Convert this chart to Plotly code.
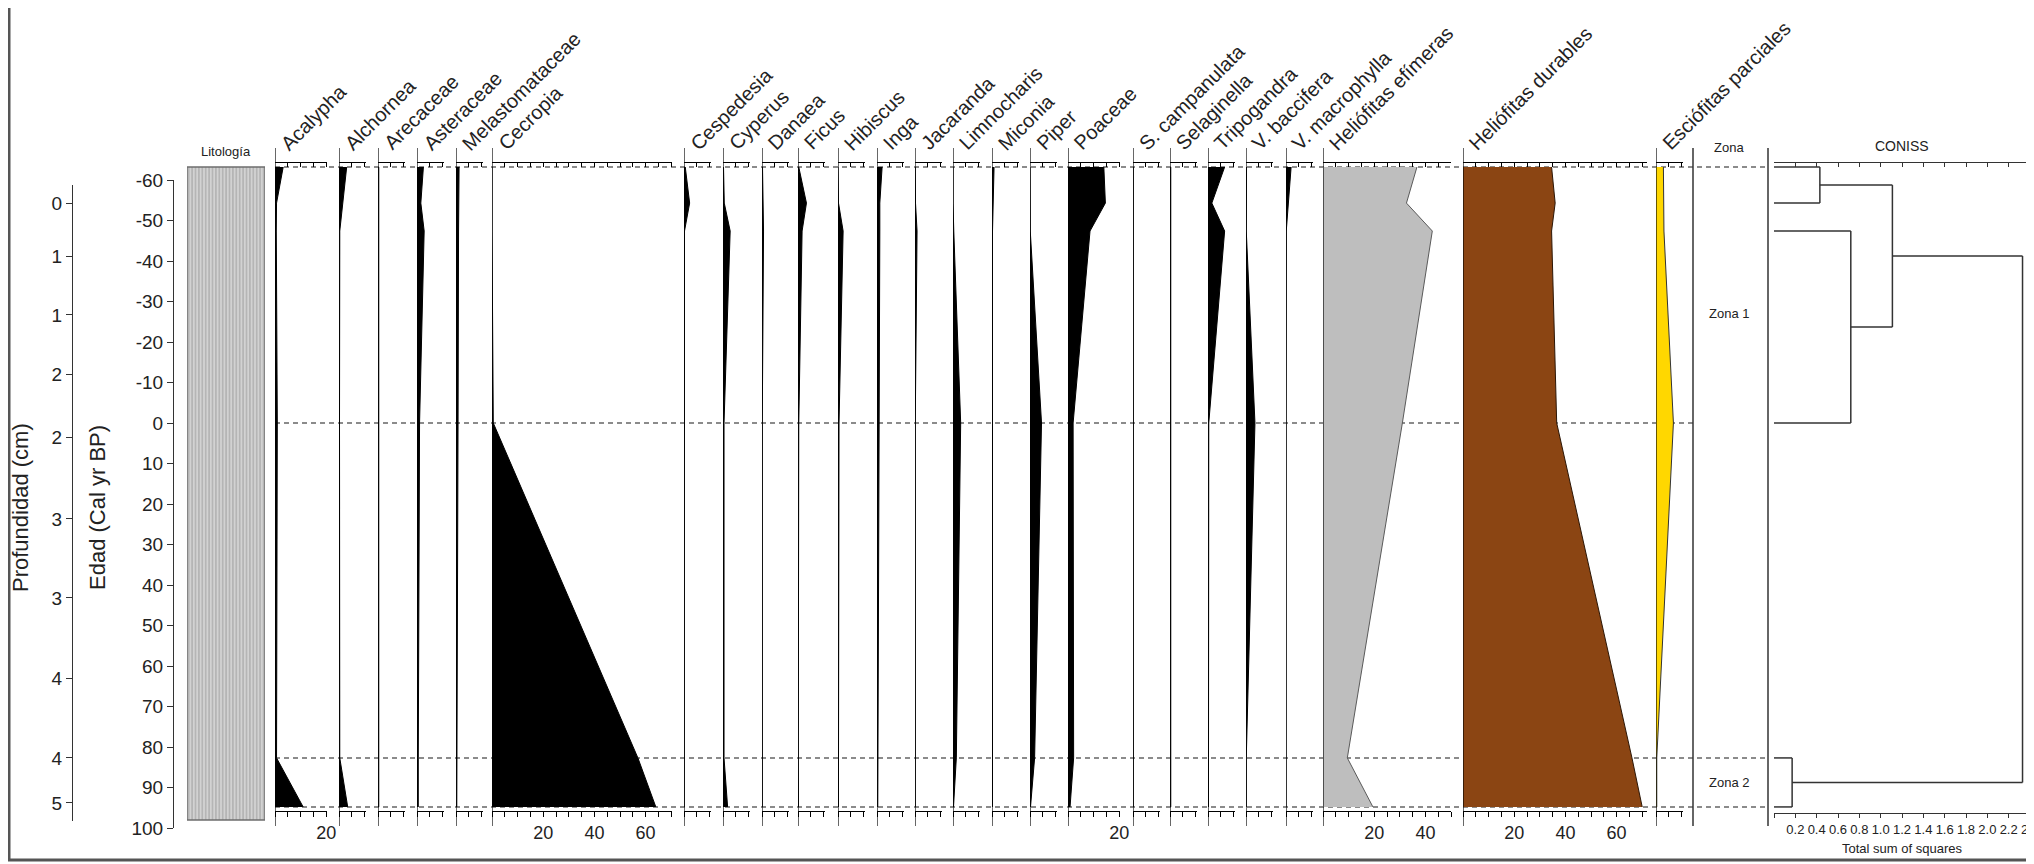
import plotly.graph_objects as go

# ---------------- data ----------------
sample_ages = [-63.2, -54.3, -47.4, 0.0, 82.7, 94.8]

taxa_names = ["Acalypha", "Alchornea", "Arecaceae", "Asteraceae", "Melastomataceae",
              "Cecropia", "Cespedesia", "Cyperus", "Danaea", "Ficus", "Hibiscus", "Inga",
              "Jacaranda", "Limnocharis", "Miconia", "Piper", "Poaceae", "S. campanulata",
              "Selaginella", "Tripogandra", "V. baccifera", "V. macrophylla",
              "Heliófitas efímeras", "Heliófitas durables", "Esciófitas parciales"]

acalypha = [3.2, 0.6, 0.5, 0.9, 0.6, 11.0]
alchornea = [3.0, 1.5, 0.3, 0.2, 0.3, 3.4]
arecaceae = [0.3, 0.3, 0.3, 0.2, 0.2, 0.3]
asteraceae = [2.5, 1.5, 2.8, 1.0, 0.5, 0.5]
melastomataceae = [1.2, 1.0, 1.0, 0.8, 0.3, 0.3]
cecropia = [0.0, 0.0, 0.0, 0.5, 57.0, 64.0]
cespedesia = [0.5, 2.2, 0.2, 0.1, 0.1, 0.1]
cyperus = [0.2, 0.5, 2.8, 0.4, 0.4, 1.8]
danaea = [0.2, 0.3, 0.6, 0.1, 0.1, 0.1]
ficus = [0.3, 3.3, 1.6, 0.3, 0.1, 0.2]
hibiscus = [0.0, 0.2, 2.0, 0.4, 0.2, 0.2]
inga = [2.0, 1.1, 1.1, 0.8, 0.2, 0.3]
jacaranda = [0.1, 0.2, 0.8, 0.1, 0.1, 0.1]
limnocharis = [0.0, 0.0, 0.3, 3.0, 1.3, 0.2]
miconia = [0.8, 0.3, 0.2, 0.2, 0.2, 0.2]
piper = [0.0, 0.0, 0.1, 4.5, 1.8, 0.2]
poaceae = [14.0, 14.6, 8.6, 2.0, 2.2, 0.8]
s_campanulata = [0.1, 0.1, 0.1, 0.1, 0.1, 0.1]
selaginella = [0.3, 0.3, 0.4, 0.4, 0.5, 0.3]
tripogandra = [6.5, 1.5, 6.5, 0.3, 0.2, 0.2]
v_baccifera = [0.2, 0.2, 0.1, 3.5, 0.1, 0.1]
v_macrophylla = [2.0, 0.8, 0.1, 0.0, 0.0, 0.0]
helio_efimeras = [36.7, 32.6, 42.7, 31.0, 9.5, 19.5]
helio_durables = [34.6, 36.0, 34.6, 36.6, 66.0, 70.0]
esciofitas_parciales = [2.9, 2.9, 3.1, 6.8, 0.3, 0.3]

taxa_values = [acalypha, alchornea, arecaceae, asteraceae, melastomataceae, cecropia,
               cespedesia, cyperus, danaea, ficus, hibiscus, inga, jacaranda, limnocharis,
               miconia, piper, poaceae, s_campanulata, selaginella, tripogandra,
               v_baccifera, v_macrophylla, helio_efimeras, helio_durables,
               esciofitas_parciales]

panel_max = [20.5, 10.5, 10.5, 10.5, 10.5, 70.5, 10.5, 10.5, 10.5, 10.5, 10.5, 10.5,
             10.5, 10.5, 10.5, 10.5, 20.5, 10.5, 10.5, 10.5, 10.5, 10.5, 50.0, 72.0, 10.5]

age_ticks = list(range(-60, 101, 10))
age_tick_labels = [str(v) for v in age_ticks]
depth_tick_ages = [-54.3, -41.2, -26.7, -12.1, 3.5, 23.7, 43.2, 63.0, 82.7, 93.8]
depth_tick_labels = ["0", "1", "1", "2", "2", "3", "3", "4", "4", "5"]

lith_top, lith_bottom = -63.2, 98.0
zone_bounds = [-63.2, 0.0, 82.7, 94.8]
zone_names = ["Zona 1", "Zona 2"]
zone_label_ages = [-27.0, 88.8]

# CONISS merges: (cluster a, cluster b, total sum of squares); new clusters numbered from 6
coniss_merges = [(0, 1, 0.43), (2, 3, 0.72), (4, 5, 0.17), (6, 7, 1.11), (9, 8, 2.33)]
coniss_ticks = [round(0.2 * i, 1) for i in range(13)]
coniss_tick_labels = ["" if v == 0 else f"{v:.1f}" for v in coniss_ticks]

# ---------------- layout constants ----------------
FIG_W, FIG_H = 2034, 864
OFFSET = 8          # page body margin: screen px = figure px + OFFSET
PX_PER_PCT = 2.56
AGE0_PX, PX_PER_YR = 423.0, 4.05
panel_left_px = [275, 339, 378, 417, 456, 492, 684, 723, 762, 798, 838, 877, 915, 953,
                 992, 1030, 1068, 1133, 1170, 1208, 1246, 1286, 1323, 1463, 1656]
fill_colors = ["black"] * 22 + ["#bebebe", "#8b4513", "#ffd700"]
line_colors = ["black"] * 22 + ["#5a5a5a", "#2b1606", "#333333"]
TXT = "#222222"
FONT = "Liberation Sans, Arial, sans-serif"
BOT_AX_PX, TOP_AX_PX = 811, 162
PANEL_LINE_TOP, PANEL_LINE_BOT = 148, 826


def fx(px):
    return (px - OFFSET) / FIG_W


def fy(px):
    return 1 - (px - OFFSET) / FIG_H


def age_at(px):
    return (px - AGE0_PX) / PX_PER_YR


def px_of_age(a):
    return AGE0_PX + a * PX_PER_YR


def axkey(n):
    return "xaxis" if n == 1 else f"xaxis{n}"


def axref(n):
    return "x" if n == 1 else f"x{n}"


def label(text, xpx, ypx, size, angle=0, yref="paper", yval=None):
    return dict(text=text, x=fx(xpx), y=(fy(ypx) if yval is None else yval),
                xref="paper", yref=yref, xanchor="center", yanchor="middle",
                textangle=angle, showarrow=False,
                font=dict(size=size, color=TXT, family=FONT))


fig = go.Figure()
layout = {}
shapes = []
annotations = []

# shared panel y axis (age)
layout["yaxis"] = dict(domain=[fy(830), fy(145)], range=[age_at(830), age_at(145)],
                       visible=False, anchor="free", position=0, showgrid=False,
                       automargin=False)

ax = 1
for i, name in enumerate(taxa_names):
    x0 = panel_left_px[i]
    x1 = x0 + panel_max[i] * PX_PER_PCT
    bot, top = ax, ax + 1
    ax += 2
    ticks = list(range(0, int(panel_max[i]) + 1, 5))
    labels = [str(v) if (v > 0 and v % 20 == 0) else "" for v in ticks]
    layout[axkey(bot)] = dict(domain=[fx(x0), fx(x1)], range=[0, panel_max[i]],
                              anchor="free", position=fy(BOT_AX_PX), side="bottom",
                              showline=True, linecolor="black", linewidth=1,
                              ticks="outside", ticklen=5, tickcolor="black", tickwidth=1,
                              tickvals=ticks, ticktext=labels, showgrid=False,
                              zeroline=False, automargin=False,
                              tickfont=dict(size=18, color=TXT, family=FONT))
    layout[axkey(top)] = dict(domain=[fx(x0), fx(x1)], range=[0, panel_max[i]],
                              anchor="free", position=fy(TOP_AX_PX), side="top",
                              showline=True, linecolor="black", linewidth=1,
                              ticks="inside", ticklen=4, tickcolor="black", tickwidth=1,
                              tickvals=ticks, showticklabels=False, showgrid=False,
                              zeroline=False, automargin=False)
    fig.add_trace(go.Scatter(x=taxa_values[i], y=sample_ages, xaxis=axref(bot), yaxis="y",
                             mode="lines", fill="tozerox", fillcolor=fill_colors[i],
                             line=dict(color=line_colors[i], width=1),
                             showlegend=False, hoverinfo="skip"))
    fig.add_trace(go.Scatter(x=[None], y=[None], xaxis=axref(top), yaxis="y",
                             mode="lines", showlegend=False, hoverinfo="skip"))
    shapes.append(dict(type="line", xref=axref(bot), yref="paper", x0=0, x1=0,
                       y0=fy(PANEL_LINE_BOT), y1=fy(PANEL_LINE_TOP),
                       line=dict(color="black", width=1.2)))
    annotations.append(dict(text=name, x=fx(x0 - 1), y=fy(157), xref="paper", yref="paper",
                            xanchor="left", yanchor="bottom", textangle=-45,
                            showarrow=False, font=dict(size=20, color=TXT, family=FONT)))

# ---------------- lithology ----------------
lith_ax = ax
ax += 1
layout[axkey(lith_ax)] = dict(domain=[fx(187), fx(265)], range=[-0.5, 0.5], visible=False,
                              anchor="free", position=0, automargin=False)
fig.add_trace(go.Bar(x=[0], y=[lith_bottom - lith_top], base=[lith_top], width=[1],
                     xaxis=axref(lith_ax), yaxis="y", showlegend=False, hoverinfo="skip",
                     marker=dict(color="#d2d2d2",
                                 line=dict(color="#6e6e6e", width=1.5),
                                 pattern=dict(shape="|", fgcolor="#8a8a8a", size=3.4,
                                              solidity=0.4, fillmode="overlay"))))
annotations.append(label("Litología", 226, 152, 13))

# ---------------- age axis & depth axis ----------------
layout["yaxis2"] = dict(domain=[fy(px_of_age(100)), fy(px_of_age(-60))], range=[100, -60],
                        anchor="free", position=fx(173), side="left", showline=True,
                        linecolor="#333333", linewidth=1.2, ticks="outside", ticklen=6,
                        tickcolor="#333333", tickvals=age_ticks, ticktext=age_tick_labels,
                        showgrid=False, zeroline=False, automargin=False,
                        tickfont=dict(size=19, color=TXT, family=FONT))
fig.add_trace(go.Scatter(x=[None], y=[None], xaxis=axref(lith_ax), yaxis="y2",
                         mode="lines", showlegend=False, hoverinfo="skip"))
layout["yaxis3"] = dict(domain=[fy(821), fy(185)], range=[age_at(821), age_at(185)],
                        anchor="free", position=fx(72), side="left", showline=True,
                        linecolor="#333333", linewidth=1.2, ticks="outside", ticklen=6,
                        tickcolor="#333333", tickvals=depth_tick_ages,
                        ticktext=depth_tick_labels, showgrid=False, zeroline=False,
                        automargin=False,
                        tickfont=dict(size=19, color=TXT, family=FONT))
fig.add_trace(go.Scatter(x=[None], y=[None], xaxis=axref(lith_ax), yaxis="y3",
                         mode="lines", showlegend=False, hoverinfo="skip"))
annotations.append(label("Profundidad (cm)", 20, 508, 22, angle=-90))
annotations.append(label("Edad (Cal yr BP)", 97, 508, 22, angle=-90))

# ---------------- zone boundaries ----------------
for b in zone_bounds:
    right_px = 1693 if b == 0.0 else 1768
    shapes.append(dict(type="line", xref="paper", yref="y", x0=fx(275), x1=fx(right_px),
                       y0=b, y1=b, layer="below",
                       line=dict(color="#666666", width=1.5, dash="5px,4px")))

# Zona column
for xp in (1693, 1768):
    shapes.append(dict(type="line", xref="paper", yref="paper", x0=fx(xp), x1=fx(xp),
                       y0=fy(826), y1=fy(148), line=dict(color="#333333", width=1.5)))
annotations.append(label("Zona", 1729, 148, 13))
for zn, za in zip(zone_names, zone_label_ages):
    annotations.append(label(zn, 1729, 0, 13, yref="y", yval=za))

# ---------------- CONISS ----------------
cb, ct = ax, ax + 1
ax += 2
for n, pos, side, tk, lab in ((cb, BOT_AX_PX + 2, "bottom", "outside", True),
                              (ct, TOP_AX_PX, "top", "inside", False)):
    layout[axkey(n)] = dict(domain=[fx(1774), fx(2030)], range=[0, 2.4], anchor="free",
                            position=fy(pos), side=side, showline=True, linecolor="#333333",
                            linewidth=1.2, ticks=tk, ticklen=4, tickcolor="#333333",
                            tickvals=coniss_ticks, ticktext=coniss_tick_labels,
                            showticklabels=lab, showgrid=False, zeroline=False,
                            automargin=False,
                            tickfont=dict(size=13, color=TXT, family=FONT))

pos = {i: a for i, a in enumerate(sample_ages)}
hgt = {i: 0.0 for i in range(len(sample_ages))}
dx, dy = [], []
nxt = len(sample_ages)
for a, b, h in coniss_merges:
    for c in (a, b):
        dx += [hgt[c], h, None]
        dy += [pos[c], pos[c], None]
    dx += [h, h, None]
    dy += [pos[a], pos[b], None]
    pos[nxt] = (pos[a] + pos[b]) / 2
    hgt[nxt] = h
    nxt += 1
fig.add_trace(go.Scatter(x=dx, y=dy, xaxis=axref(cb), yaxis="y", mode="lines",
                         line=dict(color="#333333", width=1.5), showlegend=False,
                         hoverinfo="skip"))
fig.add_trace(go.Scatter(x=[None], y=[None], xaxis=axref(ct), yaxis="y", mode="lines",
                         showlegend=False, hoverinfo="skip"))
annotations.append(label("CONISS", 1902, 146, 14))
annotations.append(label("Total sum of squares", 1902, 848, 13))

# outer frame
shapes.append(dict(type="line", xref="paper", yref="paper", x0=fx(9), x1=fx(9),
                   y0=fy(0), y1=fy(860), line=dict(color="#555555", width=3)))
shapes.append(dict(type="line", xref="paper", yref="paper", x0=fx(8), x1=fx(2034),
                   y0=fy(860), y1=fy(860), line=dict(color="#555555", width=3)))

fig.update_layout(template="none", width=FIG_W, height=FIG_H, autosize=False,
                  margin=dict(l=0, r=0, t=0, b=0, pad=0),
                  paper_bgcolor="white", plot_bgcolor="rgba(0,0,0,0)",
                  showlegend=False, shapes=shapes, annotations=annotations,
                  font=dict(family=FONT, color=TXT), barmode="overlay", **layout)

fig.write_html("out.html", config={"displayModeBar": False})
